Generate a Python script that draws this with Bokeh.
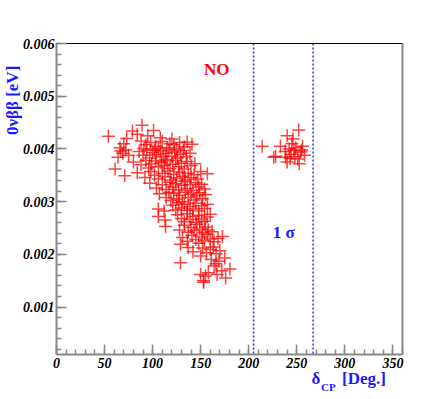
import math
from bokeh.plotting import figure
from bokeh.models import (Range1d, SingleIntervalTicker, PrintfTickFormatter, Span, Label,
                          LinearAxis, FixedTicker)
from bokeh.embed import file_html
from bokeh.resources import INLINE

# delta_CP [deg] and m_bb [eV] for the main cluster
main_dcp = [54, 79, 89, 101, 95, 84, 120, 108, 73,
            66, 70, 88, 93, 98, 103, 110, 115, 122, 128, 133, 141, 106, 118, 91, 125, 136,
            67, 69, 72, 75, 64, 86, 90, 94, 97, 100, 104, 108, 111, 114, 117, 120, 123, 126, 129, 132, 135, 139, 102, 113,
            61, 80, 88, 93, 96, 99, 103, 106, 109, 112, 115, 118, 121, 124, 127, 130, 133, 136, 140, 144,
            71, 84, 92, 98, 102, 106, 110, 113, 116, 119, 122, 125, 128, 131, 134, 137, 140, 143, 147, 157, 150,
            97, 104, 110, 114, 118, 121, 124, 127, 130, 133, 136, 139, 142, 145, 148, 151, 154,
            107, 114, 119, 122, 125, 128, 131, 134, 137, 140, 143, 146, 149, 152, 155, 117,
            106, 112, 121, 124, 127, 130, 133, 136, 139, 142, 145, 148, 151, 154, 157,
            106, 113, 126, 130, 133, 136, 139, 142, 145, 148, 151, 154, 157, 160,
            113.5, 128, 133, 137, 140, 143, 146, 149, 152, 155, 158, 162,
            129, 131, 136, 141, 145, 148, 151, 154, 157, 160, 164, 168, 172.6,
            137, 142, 150, 152, 156, 160, 163, 166, 170,
            129, 153, 155, 166, 164, 176, 180.5, 153, 158, 161, 169, 172, 175, 150, 167]
main_mbb = [0.00424, 0.00434, 0.00445, 0.00435, 0.00425, 0.00428, 0.00419, 0.00421, 0.00420,
            0.00402, 0.00410, 0.00415, 0.00408, 0.00412, 0.00405, 0.00414, 0.00402, 0.00408, 0.00412, 0.00404, 0.00409, 0.00401, 0.00410, 0.00401, 0.00400, 0.00413,
            0.00396, 0.00392, 0.00398, 0.00388, 0.00384, 0.00395, 0.00388, 0.00398, 0.00383, 0.00393, 0.00389, 0.00396, 0.00385, 0.00392, 0.00398, 0.00386, 0.00394, 0.00383, 0.00390, 0.00397, 0.00385, 0.00392, 0.00398, 0.00380,
            0.00362, 0.00375, 0.00370, 0.00378, 0.00364, 0.00372, 0.00377, 0.00366, 0.00374, 0.00369, 0.00377, 0.00363, 0.00371, 0.00378, 0.00366, 0.00373, 0.00362, 0.00376, 0.00368, 0.00372,
            0.00349, 0.00355, 0.00346, 0.00357, 0.00350, 0.00343, 0.00354, 0.00347, 0.00358, 0.00341, 0.00352, 0.00345, 0.00356, 0.00348, 0.00341, 0.00354, 0.00346, 0.00351, 0.00343, 0.00353, 0.00357,
            0.00335, 0.00326, 0.00332, 0.00323, 0.00337, 0.00328, 0.00334, 0.00322, 0.00331, 0.00338, 0.00325, 0.00332, 0.00321, 0.00336, 0.00328, 0.00333, 0.00324,
            0.00315, 0.00308, 0.00302, 0.00316, 0.00305, 0.00312, 0.00300, 0.00318, 0.00308, 0.00314, 0.00303, 0.00311, 0.00317, 0.00306, 0.00313, 0.00318,
            0.00286, 0.00282, 0.00293, 0.00284, 0.00298, 0.00288, 0.00295, 0.00283, 0.00291, 0.00286, 0.00297, 0.00282, 0.00292, 0.00287, 0.00295,
            0.00272, 0.00265, 0.00275, 0.00268, 0.00262, 0.00277, 0.00266, 0.00272, 0.00261, 0.00274, 0.00267, 0.00263, 0.00271, 0.00276,
            0.00253, 0.00246, 0.00255, 0.00242, 0.00251, 0.00245, 0.00257, 0.00248, 0.00241, 0.00252, 0.00246, 0.00243,
            0.00219, 0.00232, 0.00225, 0.00236, 0.00228, 0.00221, 0.00233, 0.00226, 0.00238, 0.00229, 0.00224, 0.00230, 0.00234,
            0.00213, 0.00205, 0.00197, 0.00212, 0.00203, 0.00209, 0.00214, 0.00201, 0.00207,
            0.00184, 0.00150, 0.00159, 0.00182, 0.00178, 0.00155, 0.00172, 0.00147, 0.00165, 0.00190, 0.00187, 0.00169, 0.00193, 0.00162, 0.00162]

# second cluster
right_dcp = [214, 226, 228, 233, 238, 240, 242, 244, 245, 246, 247, 249, 251, 252, 252.5, 254, 256, 258, 240, 238.5, 248, 243, 255]
right_mbb = [0.00405, 0.00384, 0.00386, 0.00405, 0.00395, 0.00425, 0.00400, 0.00390, 0.00410, 0.00419, 0.00397, 0.00402,
             0.00381, 0.00436, 0.00372, 0.00394, 0.00405, 0.00388, 0.00375, 0.00384, 0.00385, 0.00382, 0.00398]

sigma_bounds = [205, 267]

x_min, x_max = 0, 360
y_min, y_max = 0.0001, 0.006

font = "Liberation Serif"
blue = "#1a1aff"

p = figure(width=436, height=399, output_backend="svg", toolbar_location=None,
           x_range=Range1d(x_min, x_max), y_range=Range1d(y_min, y_max),
           min_border_left=56, min_border_right=34, min_border_top=43, min_border_bottom=45)
p.background_fill_color = "white"
p.border_fill_color = "white"
p.grid.visible = False
p.outline_line_color = "black"
p.outline_line_width = 1

p.xaxis.ticker = SingleIntervalTicker(interval=50, num_minor_ticks=5)
p.yaxis.ticker = SingleIntervalTicker(interval=0.001, num_minor_ticks=5)
p.yaxis.formatter = PrintfTickFormatter(format="%.3f")

for ax in (p.xaxis, p.yaxis):
    ax.axis_line_color = "#888888"
    ax.axis_line_width = 2
    ax.major_tick_line_color = "#888888"
    ax.minor_tick_line_color = "#888888"
    ax.major_tick_line_width = 1.5
    ax.minor_tick_line_width = 1.5
    ax.major_tick_in = 10
    ax.major_tick_out = 0
    ax.minor_tick_in = 5
    ax.minor_tick_out = 0
    ax.major_label_text_font = font
    ax.major_label_text_font_style = "bold italic"
    ax.major_label_text_font_size = "14px"
    ax.major_label_text_color = "black"
p.xaxis.major_label_standoff = 3
p.yaxis.major_label_standoff = 2

right_axis = LinearAxis(ticker=FixedTicker(ticks=[]), axis_line_color="#888888", axis_line_width=2,
                        major_tick_line_color=None, minor_tick_line_color=None)
p.add_layout(right_axis, "right")

# x-axis title pieces: "δ" and "[Deg.]" on one row, subscript "CP" pulled up next to δ
title_pos = {269.8: "δ", 320.0: "[Deg.]"}
sub_pos = {282.8: "CP"}
xt = LinearAxis(ticker=FixedTicker(ticks=list(title_pos)), major_label_overrides=title_pos,
                axis_line_color=None, major_tick_line_color=None, minor_tick_line_color=None,
                major_label_standoff=-8, major_label_text_font=font,
                major_label_text_font_style="bold", major_label_text_font_size="17px",
                major_label_text_color=blue)
p.add_layout(xt, "below")
xs_ = LinearAxis(ticker=FixedTicker(ticks=list(sub_pos)), major_label_overrides=sub_pos,
                 axis_line_color=None, major_tick_line_color=None, minor_tick_line_color=None,
                 major_label_standoff=-16, major_label_text_font=font,
                 major_label_text_font_style="bold", major_label_text_font_size="11px",
                 major_label_text_color=blue)
p.add_layout(xs_, "below")

# y-axis title, placed near the top end of the axis
ytitle_pos = {0.00492: "0νββ [eV]"}
yt = LinearAxis(ticker=FixedTicker(ticks=list(ytitle_pos)), major_label_overrides=ytitle_pos,
                axis_line_color=None, major_tick_line_color=None, minor_tick_line_color=None,
                major_label_orientation="parallel", major_label_standoff=-9,
                major_label_text_font=font, major_label_text_font_style="bold",
                major_label_text_font_size="17px", major_label_text_color=blue)
p.add_layout(yt, "left")

for xs in sigma_bounds:
    p.add_layout(Span(location=xs, dimension="height", line_color="#3030ff",
                      line_dash="2 2", line_width=1.5))

p.scatter(main_dcp, main_mbb, marker="cross", size=13, line_color="red",
          line_width=1.5, line_alpha=0.75)
p.scatter(right_dcp, right_mbb, marker="cross", size=13, line_color="red",
          line_width=1.5, line_alpha=0.75)

p.add_layout(Label(x=166.7, y=0.0055, text="NO", text_color="red", text_font=font,
                   text_font_style="bold", text_font_size="17px",
                   text_align="center", text_baseline="middle"))
p.add_layout(Label(x=236.5, y=0.00241, text="1 σ", text_color=blue, text_font=font,
                   text_font_style="bold", text_font_size="17px",
                   text_align="center", text_baseline="middle"))

open("out.html", "w").write(file_html(p, INLINE))
